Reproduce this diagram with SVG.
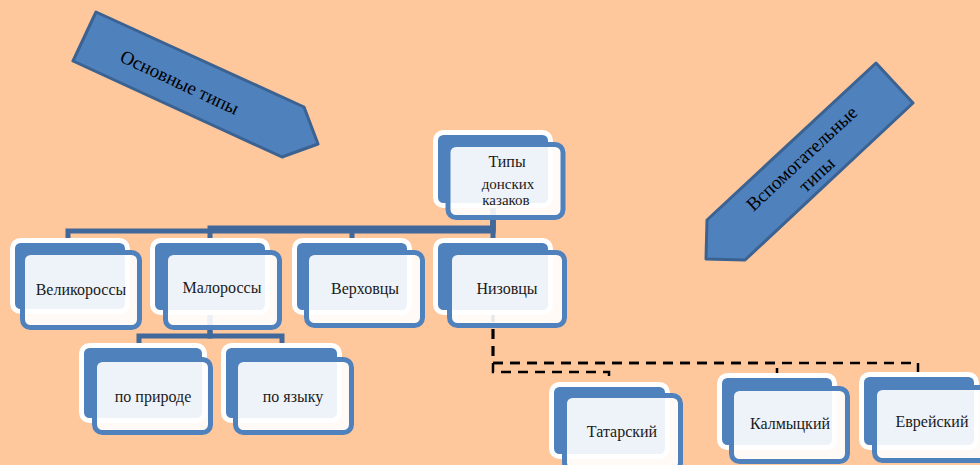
<svg xmlns="http://www.w3.org/2000/svg" width="980" height="465" viewBox="0 0 980 465">
<defs>
<style>
.bg{fill:#fec79c}
.arrow{fill:#4f81bd;stroke:#3b6291;stroke-width:3;stroke-linejoin:round}
.back{fill:#4f81bd;stroke:#ffffff;stroke-width:5}
.front{fill:#ffffff;fill-opacity:0.9;stroke:#4f81bd;stroke-width:5}
.t{font-family:"Liberation Serif","DejaVu Serif",serif;font-size:16px;fill:#1a1a1a;text-anchor:middle}
.ts{font-size:15px}
.at{font-family:"Liberation Serif","DejaVu Serif",serif;font-size:19px;fill:#000000;text-anchor:middle}
.solid{fill:none;stroke:#41689a;stroke-width:5}
.dash{fill:none;stroke:#000000;stroke-width:2.5;stroke-dasharray:10 7}
</style>
</defs>
<rect class="bg" x="0" y="0" width="980" height="465"/>

<g id="arrow-main">
<polygon class="arrow" points="96,12 304,107 318,144 282,157 73,61"/>
<text class="at" transform="translate(177,88) rotate(25)">Основные типы</text>
</g>
<g id="arrow-aux">
<polygon class="arrow" points="876,63 913,103 745,260 706,259 707,220"/>
<g transform="translate(806,163) rotate(-43)">
<text class="at" x="0" y="0">Вспомогательные</text>
<text class="at" x="0" y="22">типы</text>
</g>
</g>

<g id="connectors">
<path class="solid" d="M493 170 V231 H68 V242"/>
<path class="solid" d="M493 170 V228 H210 V242"/>
<path class="solid" d="M493 170 V229 H352 V242"/>
<path class="solid" d="M493 170 V242"/>
<path class="solid" d="M210 290 V336 H139 V347"/>
<path class="solid" d="M210 290 V336 H282 V347"/>
<path class="dash" d="M493 295 V372 H609 V384"/>
<path class="dash" d="M493 295 V363 H777 V375"/>
<path class="dash" d="M493 295 V363 H918 V374"/>
</g>

<g id="node-root" transform="translate(433,130)">
<rect class="back" x="2.5" y="2.5" width="115" height="73" rx="8"/>
<rect class="front" x="15" y="14.5" width="115" height="73" rx="8"/>
<text class="t" x="74" y="37">Типы</text>
<text class="t ts" x="75" y="59">донских</text>
<text class="t ts" x="73" y="75">казаков</text>
</g>

<g id="node-velikorossy" transform="translate(10,238)">
<rect class="back" x="2.5" y="2.5" width="115" height="71" rx="8"/>
<rect class="front" x="12.5" y="14.5" width="117" height="75" rx="8"/>
<text class="t" x="71" y="57">Великороссы</text>
</g>

<g id="node-malorossy" transform="translate(150,238)">
<rect class="back" x="2.5" y="2.5" width="115" height="72" rx="8"/>
<rect class="front" x="15.5" y="14.5" width="114" height="75" rx="8"/>
<text class="t" x="72" y="55">Малороссы</text>
</g>

<g id="node-verkhovtsy" transform="translate(292,238)">
<rect class="back" x="2.5" y="2.5" width="115" height="72" rx="8"/>
<rect class="front" x="14.5" y="14.5" width="116" height="73" rx="8"/>
<text class="t" x="73" y="56">Верховцы</text>
</g>

<g id="node-nizovtsy" transform="translate(433,238)">
<rect class="back" x="2.5" y="2.5" width="115" height="72" rx="8"/>
<rect class="front" x="16.5" y="14.5" width="115" height="73" rx="8"/>
<text class="t" x="74" y="56">Низовцы</text>
</g>

<g id="node-po-prirode" transform="translate(79,343)">
<rect class="back" x="2.5" y="2.5" width="123" height="75" rx="8"/>
<rect class="front" x="15.5" y="16.5" width="116" height="73" rx="8"/>
<text class="t" x="74" y="59">по природе</text>
</g>

<g id="node-po-yazyku" transform="translate(221,343)">
<rect class="back" x="2.5" y="2.5" width="116" height="75" rx="8"/>
<rect class="front" x="14.5" y="16.5" width="116" height="73" rx="8"/>
<text class="t" x="72" y="59">по языку</text>
</g>

<g id="node-tatarsky" transform="translate(549,382)">
<rect class="back" x="2.5" y="2.5" width="116" height="72" rx="8"/>
<rect class="front" x="15.5" y="13.5" width="116" height="75" rx="8"/>
<text class="t" x="73" y="55">Татарский</text>
</g>

<g id="node-kalmytsky" transform="translate(717,373)">
<rect class="back" x="2.5" y="2.5" width="115" height="72" rx="8"/>
<rect class="front" x="14.5" y="15.5" width="116" height="73" rx="8"/>
<text class="t" x="73" y="56">Калмыцкий</text>
</g>

<g id="node-evreysky" transform="translate(859,372)">
<rect class="back" x="2.5" y="2.5" width="115" height="73" rx="8"/>
<rect class="front" x="15.5" y="15.5" width="116" height="73" rx="8"/>
<text class="t" x="73" y="55">Еврейский</text>
</g>
</svg>
